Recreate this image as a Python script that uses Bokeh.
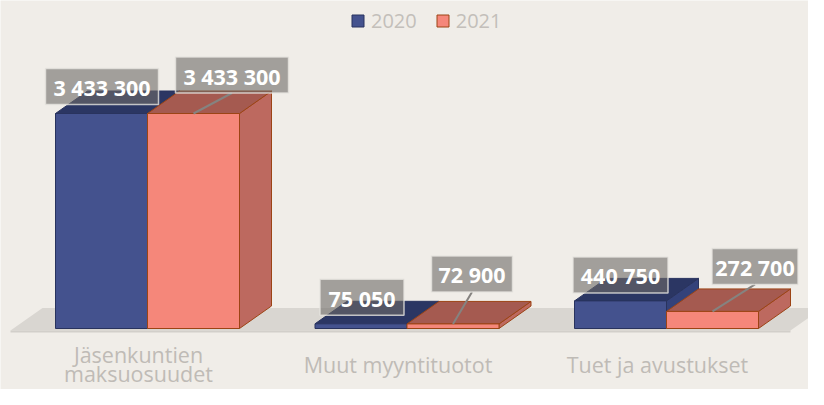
from bokeh.plotting import figure
from bokeh.models import Range1d, Legend, LegendItem
from bokeh.embed import file_html
from bokeh.resources import INLINE
from bokeh.core.properties import value

# ---------------- data ----------------
categories = ["Jäsenkuntien\nmaksuosuudet", "Muut myyntituotot", "Tuet ja avustukset"]
series_names = ["2020", "2021"]
values_2020 = [3433300, 75050, 440750]
values_2021 = [3433300, 72900, 272700]

# ---------------- styles ----------------
BG = "#f0ede8"
FLOOR = "#d9d6d1"
BLUE_FRONT, BLUE_TOP, BLUE_SIDE, BLUE_LINE = "#44528e", "#2b3663", "#34427a", "#29335e"
SAL_FRONT, SAL_TOP, SAL_SIDE, SAL_LINE = "#f5877a", "#a55a50", "#bd695f", "#9c4415"
LABEL_FONT = "Open Sans"

# label layout (pixel offsets of box centre from bar front-top-centre)
label_dx_2020 = [0.5, 1, 0]
label_dy_2020 = [-27, -26.5, -26]
label_dx_2021 = [38.5, 19, 42.5]
label_dy_2021 = [-38.5, -50, -45]
box_w_2020 = [113, 84, 95]
box_w_2021 = [113, 81, 86]
BOX_H = 36

# ---------------- geometry ----------------
W, H = 808, 389
STEP_PX = 259.5                       # pixels per category step
X0_PX = 147                           # centre of first category
BASE_PX = 328                         # baseline from top
PX_PER_VAL = 215 / max(values_2020)

x_start = -X0_PX / STEP_PX
x_end = x_start + W / STEP_PX
y_start = -(H - BASE_PX) / PX_PER_VAL
y_end = y_start + H / PX_PER_VAL


def dxu(px):
    return px / STEP_PX


def dyv(px):
    return px / PX_PER_VAL


def y_px(ry):
    return y_end - ry / PX_PER_VAL


DX, DY = dxu(32), dyv(22.5)
BW = dxu(92)

p = figure(width=W, height=H, output_backend="svg", toolbar_location=None,
           x_range=Range1d(x_start, x_end), y_range=Range1d(y_start, y_end),
           min_border=0, background_fill_color=BG, border_fill_color=BG,
           outline_line_color=None)
p.axis.visible = False
p.grid.visible = False

# floor
fl0, fl1, fy = dxu(10 - 147), dxu(790 - 147), -dyv(2)
p.patch([fl0, fl1, fl1 + DX, fl0 + DX], [fy, fy, fy + DY, fy + DY],
        fill_color=FLOOR, line_color=None)
p.patch([fl0, fl1, fl1, fl0], [fy, fy, fy - dyv(2), fy - dyv(2)],
        fill_color="#d2cfca", line_color=None)

idx = list(range(len(categories)))


def faces(lefts, rights, heights):
    tops = ([[l, r, r + DX, l + DX] for l, r in zip(lefts, rights)],
            [[h, h, h + DY, h + DY] for h in heights])
    sides = ([[r, r + DX, r + DX, r] for r in rights],
             [[0, DY, h + DY, h] for h in heights])
    return tops, sides


renderers = []
for vals, off, cf, ct, cs, cl in [
        (values_2020, -BW, BLUE_FRONT, BLUE_TOP, BLUE_SIDE, BLUE_LINE),
        (values_2021, 0.0, SAL_FRONT, SAL_TOP, SAL_SIDE, SAL_LINE)]:
    lefts = [i + off for i in idx]
    rights = [l + BW for l in lefts]
    tops, sides = faces(lefts, rights, vals)
    p.patches(sides[0], sides[1], fill_color=cs, line_color=cl, line_width=1)
    p.patches(tops[0], tops[1], fill_color=ct, line_color=cl, line_width=1)
    r = p.quad(left=lefts, right=rights, bottom=0, top=vals,
               fill_color=cf, line_color=cl, line_width=1)
    renderers.append(r)


def fmt(v):
    return f"{v:,}".replace(",", " ")


# data labels
for vals, off, ldx, ldy, bws, leader in [
        (values_2020, -BW / 2, label_dx_2020, label_dy_2020, box_w_2020, False),
        (values_2021, BW / 2, label_dx_2021, label_dy_2021, box_w_2021, True)]:
    cx = [i + off for i in idx]
    bx = [c + dxu(d) for c, d in zip(cx, ldx)]
    by = [v + dyv(-d) for v, d in zip(vals, ldy)]
    if leader:
        p.segment(x0=bx, y0=[y - dyv(BOX_H / 2) for y in by], x1=cx, y1=vals,
                  line_color="#858380", line_width=2)
    p.rect(x=bx, y=by, width=bws, height=BOX_H,
           width_units="screen", height_units="screen",
           fill_color="#6e6b67", fill_alpha=0.6,
           line_color="#e6e3de", line_alpha=0.8, line_width=1.5)
    p.text(x=bx, y=by, text=[fmt(v) for v in vals], text_align="center",
           text_baseline="middle", text_color="white", text_font_style="bold",
           text_font=value(LABEL_FONT), text_font_size="21.5px", y_offset=1)

# category labels (positions in pixels from top)
lx, ly, lt = [], [], []
for i, c in enumerate(categories):
    lines = c.split("\n")
    first, gap = (364, 0) if len(lines) == 1 else (354, 19)
    for k, line in enumerate(lines):
        lx.append(i - dxu(9))
        ly.append(y_px(first + gap * k))
        lt.append(line)
p.text(x=lx, y=ly, text=lt, text_align="center", text_baseline="alphabetic",
       text_color="#bfbbb6", text_font=value(LABEL_FONT), text_font_size="21.5px")

legend = Legend(items=[LegendItem(label=series_names[0], renderers=[renderers[0]]),
                       LegendItem(label=series_names[1], renderers=[renderers[1]])],
                orientation="horizontal", location=(350, 355),
                padding=0, margin=0, spacing=18, label_standoff=6,
                glyph_width=15, glyph_height=15, label_height=20,
                label_text_font=LABEL_FONT, label_text_font_size="20px",
                label_text_color="#c3bfba", background_fill_alpha=0,
                border_line_alpha=0)
p.add_layout(legend)

open("out.html", "w").write(file_html(p, INLINE))
